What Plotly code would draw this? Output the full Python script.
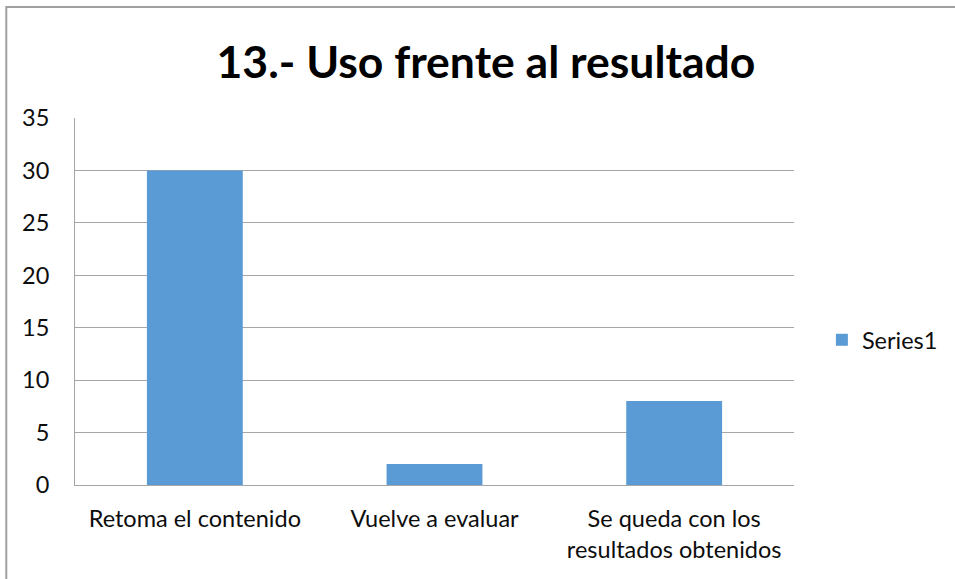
import plotly.graph_objects as go

categories = ["Retoma el contenido", "Vuelve a evaluar", "Se queda con los<br>resultados obtenidos"]
values = [30, 2, 8]
series_name = "Series1"
y_ticks = [0, 5, 10, 15, 20, 25, 30, 35]
title_text = "13.- Uso frente al resultado"

L, R, T, B = 75, 797, 118, 485
W, H = 955, 579

fig = go.Figure()
fig.add_trace(go.Bar(x=categories, y=values, name=series_name,
                     marker=dict(color="#5B9BD5", line=dict(width=0))))

fig.update_layout(
    width=W, height=H,
    margin=dict(l=L, r=W - R, t=T, b=H - B, pad=0),
    paper_bgcolor="white", plot_bgcolor="white",
    font=dict(family="Lato, Carlito, sans-serif", color="#0d0d0d", size=23.5),
    title=dict(text="<b>" + title_text + "</b>", x=486 / W, xanchor="center",
               y=1 - 62 / H, yanchor="middle",
               font=dict(size=44.5, color="#000000", family="Lato, sans-serif")),
    bargap=0.6,
    showlegend=True,
    legend=dict(x=(825 - L) / (R - L), xanchor="left", y=(B - 340) / (B - T), yanchor="middle",
                font=dict(size=23.5, color="#0d0d0d"), bgcolor="rgba(0,0,0,0)",
                itemwidth=30),
    xaxis=dict(showline=True, linecolor="#a6a6a6", linewidth=1, showgrid=False,
               ticks="", tickfont=dict(size=23.5), ticklabelstandoff=13,
               mirror=False),
    yaxis=dict(range=[0, 35], tickvals=y_ticks, showgrid=True, gridcolor="#a6a6a6",
               gridwidth=1, showline=True, linecolor="#a6a6a6", linewidth=1,
               ticks="", tickfont=dict(size=23.5), ticklabelstandoff=20, zeroline=False),
)

# chart border (top & left edges visible, rest outside the canvas)
x0 = (6 - L) / (R - L)
x1 = (W + 5 - L) / (R - L)
y1 = (B - 7) / (B - T)
y0 = (B - (H + 5)) / (B - T)
fig.add_shape(type="rect", xref="paper", yref="paper", x0=x0, x1=x1, y0=y0, y1=y1,
              line=dict(color="#a0a0a0", width=2), fillcolor="rgba(0,0,0,0)", layer="below")

fig.write_html("out.html", config={"displayModeBar": False},
               post_script="document.body.style.margin='0';document.body.style.overflow='hidden';")
